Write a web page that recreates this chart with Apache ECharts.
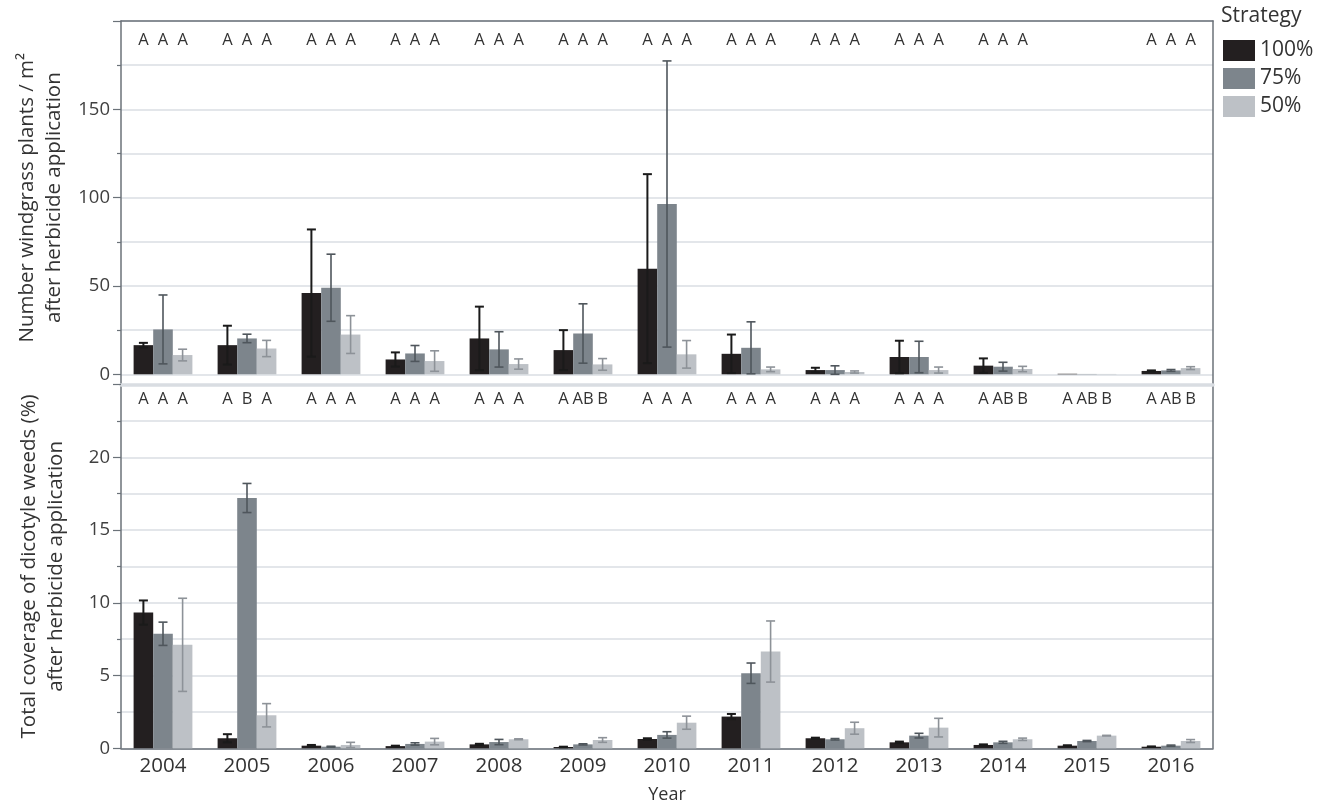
<!DOCTYPE html>
<html>
<head>
<meta charset="utf-8">
<script src="https://cdn.jsdelivr.net/npm/echarts@6/dist/echarts.min.js"></script>
<style>
html,body{margin:0;padding:0;background:#fff;}
#chart{width:1327px;height:810px;}
</style>
</head>
<body>
<div id="chart"></div>
<script>
// ---------- DATA ----------
const years = ['2004','2005','2006','2007','2008','2009','2010','2011','2012','2013','2014','2015','2016'];
const strategies = ['100%','75%','50%'];

// Top panel: number of windgrass plants / m2
const wind100    = [16.5, 16.5, 46.0, 8.4, 20.3, 13.7, 59.8, 11.6, 2.4, 9.8, 4.9, 0.3, 1.9];
const wind100Err = [1.3, 11.0, 36.0, 4.0, 18.0, 11.3, 53.5, 10.9, 1.3, 9.2, 4.1, 0, 0.3];
const wind75     = [25.4, 20.3, 49.0, 11.8, 14.1, 23.1, 96.4, 15.0, 2.4, 9.8, 4.3, 0.2, 2.2];
const wind75Err  = [19.5, 2.4, 19.0, 4.5, 10.0, 16.8, 81.0, 14.7, 2.4, 8.9, 2.5, 0, 0.5];
const wind50     = [10.9, 14.6, 22.5, 7.5, 5.8, 5.6, 11.3, 2.8, 1.3, 2.4, 3.0, 0.2, 3.5];
const wind50Err  = [3.3, 4.6, 10.7, 5.8, 2.9, 3.3, 7.8, 1.3, 0.6, 1.7, 1.5, 0, 0.8];

// Bottom panel: total coverage of dicotyle weeds (%)
const dicot100    = [9.33, 0.69, 0.18, 0.15, 0.27, 0.09, 0.64, 2.18, 0.69, 0.41, 0.23, 0.18, 0.11];
const dicot100Err = [0.83, 0.28, 0.05, 0.03, 0.04, 0.02, 0.05, 0.18, 0.04, 0.05, 0.04, 0.03, 0.02];
const dicot75     = [7.87, 17.2, 0.11, 0.30, 0.43, 0.27, 0.92, 5.16, 0.62, 0.87, 0.41, 0.50, 0.18];
const dicot75Err  = [0.80, 1.00, 0.03, 0.08, 0.18, 0.04, 0.22, 0.70, 0.05, 0.16, 0.07, 0.04, 0.04];
const dicot50     = [7.11, 2.27, 0.23, 0.46, 0.62, 0.57, 1.76, 6.65, 1.38, 1.42, 0.62, 0.87, 0.50];
const dicot50Err  = [3.20, 0.80, 0.18, 0.22, 0.03, 0.16, 0.45, 2.10, 0.41, 0.64, 0.08, 0.02, 0.10];

// Significance letters (100% / 75% / 50%)
const windLetters  = ['A A A','A A A','A A A','A A A','A A A','A A A','A A A','A A A','A A A','A A A','A A A','','A A A'];
const dicotLetters = ['A A A','A B A','A A A','A A A','A A A','A AB B','A A A','A A A','A A A','A A A','A AB B','A AB B','A AB B'];

// Axis ticks
const windTicks  = {min: 0, max: 200, interval: 50};
const dicotTicks = {min: 0, max: 25, interval: 5};

// ---------- STYLE ----------
const FONT = '"Open Sans", "Noto Sans", sans-serif';
const barColors = ['#231f20', '#7d858c', '#bdc1c6'];
const errColors = ['#1a1a1a', '#4f565c', '#8d9298'];
const gridColor = '#dadee3';
const frameColor = '#6b7279';
const GROUP = 0.7; // fraction of band used by bar group

function barSeries(name, data, idx, axis) {
  return {
    name: name, type: 'bar', data: data, xAxisIndex: axis, yAxisIndex: axis,
    barGap: '0%', barCategoryGap: '30%',
    itemStyle: {color: barColors[idx]}, z: 2, silent: true
  };
}
function errSeries(means, errs, idx, axis) {
  return {
    type: 'custom', xAxisIndex: axis, yAxisIndex: axis, z: 5, silent: true,
    data: means.map((m, i) => [i, Math.max(0, m - errs[i]), m + errs[i], errs[i]]),
    encode: {x: 0, y: [1, 2]},
    renderItem: function (params, api) {
      if (!api.value(3)) return {type: 'group', children: []};
      const i = api.value(0);
      const lo = api.coord([i, api.value(1)]);
      const hi = api.coord([i, api.value(2)]);
      const band = api.size([1, 0])[0];
      const bw = band * GROUP / 3;
      const x = lo[0] + (idx - 1) * bw;
      const cap = 4.5;
      const st = {stroke: errColors[idx], lineWidth: idx === 0 ? 2 : 1.6};
      return {type: 'group', children: [
        {type: 'line', shape: {x1: x, y1: lo[1], x2: x, y2: hi[1]}, style: st},
        {type: 'line', shape: {x1: x - cap, y1: hi[1], x2: x + cap, y2: hi[1]}, style: st},
        {type: 'line', shape: {x1: x - cap, y1: lo[1], x2: x + cap, y2: lo[1]}, style: st}
      ]};
    }
  };
}
function letterSeries(letters, level, axis) {
  return {
    type: 'custom', xAxisIndex: axis, yAxisIndex: axis, z: 6, silent: true,
    data: letters.map((t, i) => [i, level]),
    encode: {x: 0, y: 1},
    renderItem: function (params, api) {
      const i = api.value(0);
      const p = api.coord([i, api.value(1)]);
      const band = api.size([1, 0])[0];
      const bw = band * GROUP / 3;
      const parts = letters[i] ? letters[i].split(' ') : [];
      return {type: 'group', children: parts.map((t, k) => ({
        type: 'text', x: p[0] + (k - 1) * bw, y: p[1],
        style: {text: t, align: 'center', verticalAlign: 'middle',
                fontSize: 16.5, fontFamily: FONT, fill: '#333'}
      }))};
    }
  };
}

const chart = echarts.init(document.getElementById('chart'), null, {renderer: 'canvas'});

const plotLeft = 121, plotRight = 1327 - 1213;
const valueAxisBase = {
  type: 'value',
  axisLine: {show: false},
  axisTick: {show: true, length: 8, lineStyle: {color: frameColor, width: 1.2}},
  minorTick: {show: true, splitNumber: 2, length: 4, lineStyle: {color: frameColor, width: 1.2}},
  splitLine: {show: true, lineStyle: {color: gridColor, width: 1.5}},
  minorSplitLine: {show: true, lineStyle: {color: gridColor, width: 1.5}},
  axisLabel: {fontSize: 18.5, fontFamily: FONT, color: '#404040', margin: 11, showMaxLabel: false},
  nameLocation: 'middle', nameRotate: 90,
  nameTextStyle: {fontSize: 20.5, fontFamily: FONT, color: '#333', lineHeight: 27, align: 'center'}
};

const option = {
  animation: false,
  backgroundColor: '#fff',
  title: {text: 'Strategy', left: 1216, top: 1,
          textStyle: {fontSize: 21, fontWeight: 'normal', fontFamily: FONT, color: '#333'}},
  legend: {
    data: strategies, orient: 'vertical', left: 1218, top: 35,
    itemWidth: 32, itemHeight: 21, itemGap: 7, icon: 'rect',
    textStyle: {fontSize: 21, fontFamily: FONT, color: '#333', lineHeight: 21, padding: [0, 0, 0, 0]}
  },
  grid: [
    {left: plotLeft, right: plotRight, top: 21, height: 353.3},
    {left: plotLeft, right: plotRight, top: 384.5, bottom: 810 - 748.3},
    {left: plotLeft, right: plotRight, top: 21, bottom: 810 - 748.3}
  ],
  xAxis: [
    {type: 'category', data: years, gridIndex: 0, axisLine: {show: false}, axisTick: {show: false}, axisLabel: {show: false}},
    {type: 'category', data: years, gridIndex: 1, position: 'bottom',
     axisLine: {show: true, lineStyle: {color: frameColor, width: 1.5}}, axisTick: {show: false},
     axisLabel: {fontSize: 20.5, fontFamily: FONT, color: '#333', margin: 7},
     name: 'Year', nameLocation: 'middle', nameGap: 38,
     nameTextStyle: {fontSize: 18, fontFamily: FONT, color: '#333'}},
    {type: 'category', data: years, gridIndex: 1, position: 'top',
     axisLine: {show: true, lineStyle: {color: '#d9dde2', width: 3.5}}, axisTick: {show: false}, axisLabel: {show: false}},
    {type: 'value', gridIndex: 2, position: 'top', min: 0, max: 1,
     axisLine: {show: true, onZero: false, lineStyle: {color: frameColor, width: 1.5}}, axisTick: {show: false},
     axisLabel: {show: false}, splitLine: {show: false}}
  ],
  yAxis: [
    Object.assign({}, valueAxisBase, {gridIndex: 0, min: windTicks.min, max: windTicks.max, interval: windTicks.interval,
      name: 'Number windgrass plants / m²\nafter herbicide application', nameGap: 51}),
    Object.assign({}, valueAxisBase, {gridIndex: 1, min: dicotTicks.min, max: dicotTicks.max, interval: dicotTicks.interval,
      name: 'Total coverage of dicotyle weeds (%)\nafter herbicide application', nameGap: 51}),
    {type: 'value', gridIndex: 2, position: 'left', min: 0, max: 1,
     axisLine: {show: true, lineStyle: {color: frameColor, width: 1.5}}, axisTick: {show: false},
     axisLabel: {show: false}, splitLine: {show: false}},
    {type: 'value', gridIndex: 2, position: 'right', min: 0, max: 1,
     axisLine: {show: true, lineStyle: {color: frameColor, width: 1.5}}, axisTick: {show: false},
     axisLabel: {show: false}, splitLine: {show: false}}
  ],
  series: [
    barSeries('100%', wind100, 0, 0),
    barSeries('75%', wind75, 1, 0),
    barSeries('50%', wind50, 2, 0),
    barSeries('100%', dicot100, 0, 1),
    barSeries('75%', dicot75, 1, 1),
    barSeries('50%', dicot50, 2, 1),
    errSeries(wind100, wind100Err, 0, 0),
    errSeries(wind75, wind75Err, 1, 0),
    errSeries(wind50, wind50Err, 2, 0),
    errSeries(dicot100, dicot100Err, 0, 1),
    errSeries(dicot75, dicot75Err, 1, 1),
    errSeries(dicot50, dicot50Err, 2, 1),
    letterSeries(windLetters, 189, 0),
    letterSeries(dicotLetters, 24, 1)
  ]
};
chart.setOption(option);
</script>
</body>
</html>
